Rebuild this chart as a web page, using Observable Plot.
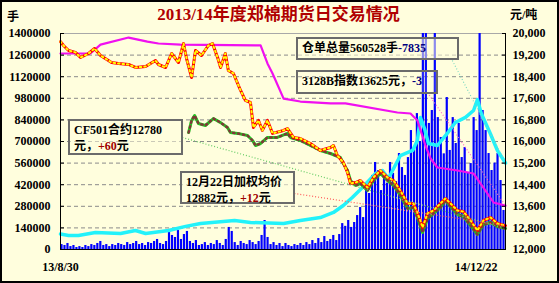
<!DOCTYPE html>
<html>
<head>
<meta charset="utf-8">
<script src="https://cdn.jsdelivr.net/npm/d3@7"></script>
<script src="https://cdn.jsdelivr.net/npm/@observablehq/plot@0.6"></script>
<style>
  body { margin: 0; background: #fff; }
  #chart {
    position: relative; width: 559px; height: 283px; overflow: hidden;
    background: #fffedd;
    font-family: "Liberation Serif", "Noto Sans CJK SC", serif; font-weight: bold; color: #000;
  }
  #chart svg { position: absolute; left: 0; top: 0; }
  .frame { position: absolute; inset: 0; border: 2px solid #000; pointer-events: none; }
  .title { position: absolute; left: 0; top: 4px; width: 557px; text-align: center;
           font-size: 17px; line-height: 22px; color: #b00000; }
  .unit { position: absolute; font-size: 12px; line-height: 14px; }
  .note { position: absolute; box-sizing: border-box; border: 2px solid #6b6b6b;
          background: rgba(255, 254, 221, 0.55); font-size: 12px; line-height: 16px;
          padding: 1px 4px; white-space: nowrap; }
  .blue { color: #000080; }
  .red { color: #a00000; }
</style>
</head>
<body>
<div id="chart">
  <div class="title">2013/14年度郑棉期货日交易情况</div>
  <div class="unit" style="left:7px; top:10px;">手</div>
  <div class="unit" style="left:510px; top:8px;">元/吨</div>
</div>
<script>
// Tick values for the two vertical axes (left: lots, right: yuan/ton) and the date labels
const volumeTicks = [0, 140000, 280000, 420000, 560000, 700000, 840000, 980000, 1120000, 1260000, 1400000];
const priceTicks = [12000, 12800, 13600, 14400, 15200, 16000, 16800, 17600, 18400, 19200, 20000];
const dateLabels = ["13/8/30", "14/12/22"];

// Daily trading volume (lots), one bar per session slot
const volume = [
  32000, 26000, 39000, 19000, 26000, 13000, 19000, 13000, 26000, 19000,
  32000, 26000, 39000, 52000, 26000, 32000, 19000, 32000, 26000, 39000,
  32000, 26000, 45000, 32000, 39000, 52000, 32000, 39000, 26000, 45000,
  39000, 52000, 65000, 39000, 32000, 52000, 130000, 91000, 78000, 123000,
  65000, 97000, 117000, 52000, 39000, 58000, 26000, 32000, 45000, 26000,
  39000, 32000, 58000, 39000, 26000, 65000, 143000, 117000, 45000, 26000,
  52000, 39000, 32000, 58000, 45000, 32000, 52000, 91000, 188000, 78000,
  32000, 45000, 26000, 39000, 19000, 39000, 26000, 19000, 32000, 26000,
  39000, 26000, 45000, 32000, 58000, 39000, 71000, 45000, 84000, 52000,
  65000, 91000, 58000, 97000, 168000, 150000, 188000, 143000, 175000, 220000,
  272000, 207000, 402000, 363000, 480000, 564000, 512000, 382000, 467000, 430000,
  564000, 493000, 440000, 622000, 531000, 480000, 596000, 771000, 642000, 881000,
  700000, 1500000, 1500000, 817000, 901000, 1500000, 855000, 726000, 620000, 985000,
  642000, 855000, 687000, 817000, 596000, 661000, 500000, 557000, 855000, 771000,
  1500000, 901000, 771000, 622000, 512000, 560000, 622000, 447000, 253000
];

// Warehouse receipts total (lots)
const receiptsT = [0, 2.7, 6, 11.7, 20.1, 25.1, 28.5, 36.2, 41.9, 46.9, 58.3, 63.6, 74.7, 80.3, 87, 91.4, 94.7,
  97.7, 101.1, 105.5, 107.8, 109.8, 113.8, 117.9, 119.5, 120.5, 121.9, 123.2, 126.2, 129.5, 132.2, 135.6,
  138.3, 139.6, 140.9, 143.9, 146.3, 149];
const receiptsLots = [100000, 91000, 91000, 110000, 104000, 123000, 104000, 123000, 150000, 169000, 188000,
  175000, 169000, 188000, 207000, 240000, 285000, 337000, 402000, 493000, 512000, 460000, 609000, 642000,
  706000, 856000, 784000, 687000, 674000, 752000, 823000, 856000, 901000, 972000, 881000, 752000, 642000, 560528];

// 3128B spot index (yuan/ton)
const indexT = [0, 10, 13.4, 22.8, 29.1, 32.8, 40.2, 67, 69.3, 71, 74.7, 80.3, 90.4, 95.4, 112.8, 117.2,
  119.5, 122.2, 123.9, 126.2, 132.9, 138.3, 141.6, 145, 149];
const indexPrice = [19260, 19260, 19590, 19850, 19700, 19630, 19590, 19560, 18890, 18520, 17590, 17480,
  17410, 17410, 17074, 17037, 16780, 15852, 15370, 15037, 14926, 14815, 14296, 13741, 13625];

// Weighted average futures price (yuan/ton)
const avgT = [0, 1, 2.7, 5, 6.7, 9.4, 11.4, 13.4, 17.1, 19.4, 22.8, 25.1, 28.5, 31.8, 32.8, 35.2, 37.2, 39.5,
  41.2, 42.2, 43.9, 45.2, 47.2, 49.5, 50.9, 52.6, 53.6, 55.2, 56.2, 57.9, 60.3, 61.9, 63.6, 64.6, 66.3, 67.6,
  69.3, 71, 74.7, 76, 78, 80.3, 83.7, 87, 90.4, 91.4, 92.7, 94.7, 96.1, 97.1, 98.8, 100.4, 102.8, 104.8, 107.1,
  109.5, 111.5, 113.8, 116.2, 118.2, 120.5, 121.2, 122.9, 124.9, 127.2, 128.9, 130.6, 132.9, 134.9, 137.3,
  139.6, 141.6, 144, 146.3, 149];
const avgPrice = [19700, 19556, 19370, 19300, 19110, 19260, 19445, 19185, 18926, 18889, 18852, 18741, 18778,
  19000, 18852, 18741, 19260, 18926, 19630, 19074, 18370, 19370, 19185, 19556, 19630, 19110, 18741, 19260,
  18630, 18520, 17890, 17520, 17445, 16520, 16780, 16410, 16780, 16300, 16410, 16480, 16150, 16111, 15926,
  15667, 15778, 15852, 15480, 15222, 14852, 14444, 14480, 14556, 14296, 14667, 14926, 14667, 14556, 14185,
  13704, 13704, 13074, 12815, 13333, 13444, 13704, 13889, 13704, 13444, 13407, 13074, 12704, 13074, 13185,
  12963, 12882];

// CF501 contract price (yuan/ton)
const cf501T = [42.9, 43.9, 44.9, 46.2, 48.5, 51.2, 53.6, 55.9, 56.9, 59.3, 62.6, 64.3, 65.3, 67, 69.3, 72.6,
  76, 77, 80.3, 83.7, 87, 90.4, 93.7, 94.7, 96.1, 97.1, 98.8, 100.4, 102.8, 104.8, 107.1, 109.5, 111.5, 113.8,
  116.2, 118.2, 119.9, 121.2, 122.9, 124.9, 127.2, 128.9, 130.6, 132.9, 134.9, 137.3, 139.6, 141.6, 144,
  146.3, 149];
const cf501Price = [16333, 16780, 16963, 16667, 16593, 16850, 16700, 16520, 16333, 16300, 16222, 16037, 15852,
  15926, 16150, 16150, 16300, 16150, 16037, 15852, 15667, 15556, 15407, 15185, 14926, 14556, 14370, 14444,
  14185, 14556, 14815, 14556, 14370, 14000, 13519, 13556, 13074, 12630, 13148, 13333, 13556, 13815, 13593,
  13296, 13222, 12889, 12556, 12926, 13000, 12852, 12780];

// Prices share the left scale: 12000–20000 yuan maps onto 0–1,400,000 lots
const toLeft = p => (p - priceTicks[0]) * (volumeTicks.at(-1) / (priceTicks.at(-1) - priceTicks[0]));
const fromLeft = v => Math.round(priceTicks[0] + v * (priceTicks.at(-1) - priceTicks[0]) / volumeTicks.at(-1));

const receipts = receiptsT.map((t, i) => ({t, v: receiptsLots[i]}));
const index3128 = indexT.map((t, i) => ({t, v: toLeft(indexPrice[i])}));
const avg = avgT.map((t, i) => ({t, v: toLeft(avgPrice[i])}));
const cf501 = cf501T.map((t, i) => ({t, v: toLeft(cf501Price[i])}));

// Callout boxes (pixel placement) and where their leader lines start (data coordinates)
const notes = [
  {html: '仓单总量560528手<span class="blue">-7835</span>', left: 296, top: 37, width: 163, height: 23,
   from: [131.2, 1225000], to: receipts.at(-1), color: "#7dd9c0"},
  {html: '3128B指数13625元，<span class="blue">-3</span>', left: 296, top: 70, width: 142, height: 24,
   from: [122.9, 1017000], to: index3128.at(-1), color: "#ff66cc", bg: "rgba(255,254,221,0.15)"},
  {html: 'CF501合约12780<br>元，<span class="red">+60</span>元', left: 68, top: 119, width: 115, height: 36,
   from: [40.8, 726000], to: cf501.at(-1), color: "#66cc66"},
  {html: '12月22日加权均价<br>12882元，<span class="red">+12</span>元', left: 180, top: 171, width: 115, height: 33,
   from: [78.3, 363000], to: avg.at(-1), color: "#ff5a5a"}
];

const leaders = notes.map(n => Plot.link([n], {
  x1: d => d.from[0], y1: d => d.from[1], x2: d => d.to.t, y2: d => d.to.v,
  stroke: n.color, strokeWidth: 1.2, strokeDasharray: "1,2"
}));

const plot = Plot.plot({
  width: 559,
  height: 283,
  marginLeft: 60,
  marginRight: 54,
  marginTop: 33,
  marginBottom: 34,
  style: {
    background: "transparent",
    fontFamily: '"Liberation Serif", "Noto Sans CJK SC", serif',
    fontSize: "12px",
    fontWeight: "bold",
    color: "#000",
    overflow: "visible"
  },
  x: {domain: [0, 149]},
  y: {domain: [volumeTicks[0], volumeTicks.at(-1)]},
  marks: [
    Plot.gridY(volumeTicks.slice(1, -1), {stroke: "#8a8a8a", strokeOpacity: 1, strokeDasharray: "4,3"}),
    Plot.ruleY([volumeTicks.at(-1)], {stroke: "#a8a8a8"}),
    Plot.rectY(volume, {x1: (d, i) => i, x2: (d, i) => i + 1, y: d => d, fill: "#0000ff",
      insetLeft: 0.4, insetRight: 0.4, clip: true}),
    Plot.line(receipts, {x: "t", y: "v", stroke: "#22f2fa", strokeWidth: 3.5}),
    Plot.line(index3128, {x: "t", y: "v", stroke: "#f010f0", strokeWidth: 2.2}),
    Plot.line(cf501, {x: "t", y: "v", stroke: "#22c422", strokeWidth: 3}),
    Plot.line(cf501, {x: "t", y: "v", stroke: "#803838", strokeWidth: 2.4, strokeDasharray: "1.5,3.5"}),
    Plot.line(avg, {x: "t", y: "v", stroke: "#ff0000", strokeWidth: 3}),
    Plot.line(avg, {x: "t", y: "v", stroke: "#ffff00", strokeWidth: 2, strokeDasharray: "1.5,3"}),
    ...leaders,
    Plot.ruleY([0], {stroke: "#000"}),
    Plot.ruleX([0, 149], {stroke: "#000"}),
    Plot.axisY(volumeTicks, {anchor: "left", tickSize: -4, tickPadding: 14, label: null,
      tickFormat: d3.format("d")}),
    Plot.axisY(priceTicks.map(toLeft), {anchor: "right", tickSize: -4, tickPadding: 11, label: null,
      tickFormat: fromLeft}),
    Plot.axisX([0], {tickSize: 0, tickPadding: 13, label: null, tickFormat: () => dateLabels[0]}),
    Plot.axisX([149], {tickSize: 0, tickPadding: 13, label: null, textAnchor: "end", dx: -8,
      tickFormat: () => dateLabels[1]})
  ]
});

const chart = document.getElementById("chart");
chart.appendChild(plot);

for (const n of notes) {
  const box = document.createElement("div");
  box.className = "note";
  box.style.left = n.left + "px";
  box.style.top = n.top + "px";
  box.style.width = n.width + "px";
  box.style.height = n.height + "px";
  if (n.bg) box.style.background = n.bg;
  box.innerHTML = n.html;
  chart.appendChild(box);
}
const frame = document.createElement("div");
frame.className = "frame";
chart.appendChild(frame);
</script>
</body>
</html>
